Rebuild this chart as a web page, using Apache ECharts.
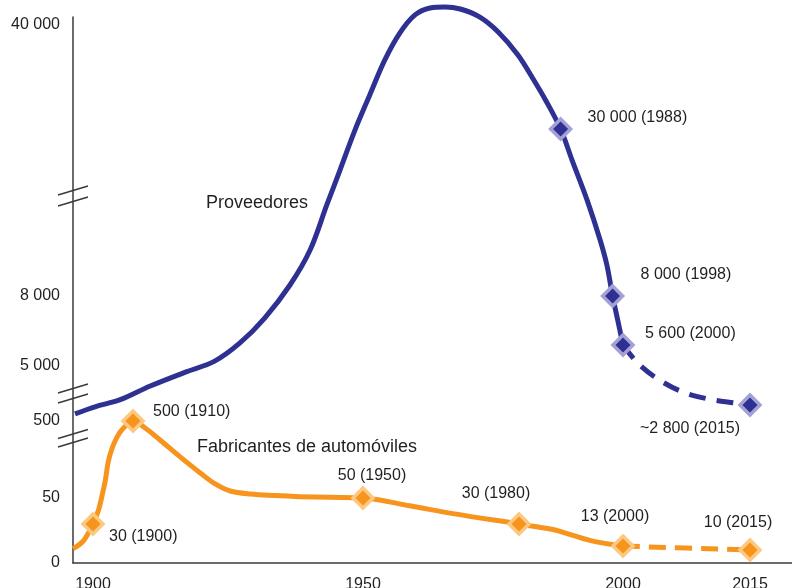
<!DOCTYPE html>
<html>
<head>
<meta charset="utf-8">
<script src="https://cdn.jsdelivr.net/npm/echarts@6/dist/echarts.min.js"></script>
<style>
  html, body { margin: 0; padding: 0; background: #ffffff; }
  #chart { width: 792px; height: 588px; }
</style>
</head>
<body>
<div id="chart"></div>
<script>
// ---- Data -------------------------------------------------------------
// Suppliers (Proveedores): solid part up to 2000, estimate (dashed) to 2015
const supplierYears  = [1895.5, 1900.5, 1906.8, 1913, 1919, 1924.2, 1928.6, 1932.9, 1937.3, 1940.8,
                        1943.7, 1946, 1948.6, 1951.3, 1954.2, 1957.1, 1960, 1962.9, 1965.8, 1968.7,
                        1972.4, 1976, 1979.8, 1982.6, 1985.1, 1988, 1990.2, 1993.1, 1995.6, 1996.9,
                        1998, 1999, 2000];
const supplierValues = [1520, 2545, 3100, 3870, 4640, 5140, 5700, 6920, 9450, 14060,
                        19990, 24590, 29860, 33270, 36640, 39240, 40970, 41640, 41740, 41540,
                        40780, 39330, 37120, 34910, 32790, 30000, 25910, 20640, 15380, 12080,
                        8000, 6800, 5600];
const supplierDashYears  = [2000, 2001.8, 2004.4, 2007.3, 2010.3, 2013.3, 2015];
const supplierDashValues = [5600, 5070, 4180, 3490, 3120, 2910, 2800];

// Car makers (Fabricantes de automóviles)
const makerYears  = [1895, 1897.6, 1900, 1901.4, 1902.3, 1903.1, 1903.8, 1904.8, 1906, 1907.4,
                     1910, 1912.1, 1914.7, 1918.2, 1921.7, 1924.3, 1926.9, 1930.4, 1934.7, 1939,
                     1944.3, 1950, 1959, 1967.3, 1980, 1986.3, 1988.2, 1994, 2000];
const makerValues = [11, 17, 30, 41, 68, 155, 260, 342, 406, 453,
                     500, 459, 389, 290, 196, 132, 91, 73, 64, 58,
                     54, 50, 44, 38, 30, 26, 24, 17, 13];
const makerDashYears  = [2000, 2015];
const makerDashValues = [13, 10];

// Labelled points
const supplierMarkYears  = [1988, 1998, 2000, 2015];
const supplierMarkValues = [30000, 8000, 5600, 2800];
const supplierMarkApprox = [false, false, false, true];
const makerMarkYears  = [1900, 1910, 1950, 1980, 2000, 2015];
const makerMarkValues = [30, 500, 50, 30, 13, 10];

// Axis ticks
const yTickValues = [0, 50, 500, 5000, 8000, 40000];
const xTickYears  = [1900, 1950, 2000, 2015];

const supplierName = 'Proveedores';
const makerName = 'Fabricantes de automóviles';

// ---- Styles -----------------------------------------------------------
const FONT = '"Liberation Sans", Arial, Helvetica, sans-serif';
const TEXT = '#231f20';
const AXIS = '#3a3a3a';
const BLUE = '#2e3192', BLUE_EDGE = '#a3a1d5';
const ORANGE = '#f7941d', ORANGE_EDGE = '#fdc981';

// label placement around each marker (dx, dy in px)
const supplierLabelPlace = [
  { align: 'left',   offset: [27, -11] },
  { align: 'left',   offset: [28, -21] },
  { align: 'left',   offset: [22, -11] },
  { align: 'center', offset: [-60, 24] }
];
const makerLabelPlace = [
  { align: 'left',   offset: [16, 13] },
  { align: 'left',   offset: [20, -9] },
  { align: 'center', offset: [9, -22] },
  { align: 'center', offset: [-23, -30] },
  { align: 'center', offset: [-8, -30] },
  { align: 'center', offset: [-12, -27] }
];

// ---- Broken-axis scales (value -> axis units) --------------------------
const xScaleKnots = [[1895, 0], [1900, 20], [1910, 60], [1950, 290], [2000, 550], [2015, 677]];
const yScaleKnots = [[0, 0], [50, 65], [500, 142], [2800, 158], [5000, 197], [5600, 218],
                     [8000, 267], [30000, 434], [40000, 538]];
// axis breaks drawn as double slashes (axis units)
const yBreaks = [[372.5, 361.5], [174.5, 164.5], [129, 120.5]];

function piecewise(knots, v) {
  let i = 0;
  while (i < knots.length - 2 && v > knots[i + 1][0]) i++;
  const [a0, b0] = knots[i], [a1, b1] = knots[i + 1];
  return b0 + (v - a0) * (b1 - b0) / (a1 - a0);
}
const sx = yr => piecewise(xScaleKnots, yr);
const sy = v => piecewise(yScaleKnots, v);

function fmtNum(n) {
  return String(n).replace(/\B(?=(\d{3})+(?!\d))/g, ' ');
}
function toPoints(xs, vs) {
  return xs.map((x, i) => [sx(x), sy(vs[i])]);
}
function toMarkers(xs, vs, approx, place) {
  return xs.map((yr, i) => ({
    value: [sx(yr), sy(vs[i])],
    label: {
      align: place[i].align,
      offset: place[i].offset,
      formatter: (approx && approx[i] ? '~' : '') + fmtNum(vs[i]) + ' (' + yr + ')'
    }
  }));
}

const yTickPos = yTickValues.map(sy);
const xTickPos = xTickYears.map(sx);

const lineBase = (color, dash) => ({
  type: 'line',
  smooth: 0.35,
  showSymbol: false,
  clip: false,
  silent: true,
  z: 2,
  lineStyle: { color: color, width: 5, type: dash || 'solid', cap: 'butt', join: 'round' }
});

const markerBase = (color, edge) => ({
  type: 'scatter',
  symbol: 'diamond',
  symbolSize: 20,
  clip: false,
  z: 5,
  itemStyle: { color: color, borderColor: edge, borderWidth: 3.5, opacity: 1 },
  label: {
    show: true,
    position: 'inside',
    verticalAlign: 'middle',
    fontFamily: FONT,
    fontSize: 16,
    color: TEXT
  }
});

const chart = echarts.init(document.getElementById('chart'), null, { renderer: 'canvas' });

chart.setOption({
  animation: false,
  backgroundColor: '#ffffff',
  grid: { left: 73, right: 0, top: 17, bottom: 25, containLabel: false, outerBoundsMode: 'none' },
  xAxis: {
    type: 'value',
    min: 0,
    max: 719,
    axisLine: { show: true, onZero: false, lineStyle: { color: AXIS, width: 1.5 } },
    axisTick: { show: false },
    splitLine: { show: false },
    axisLabel: {
      customValues: xTickPos,
      margin: 14,
      fontFamily: FONT,
      fontSize: 16,
      color: TEXT,
      formatter: v => {
        const i = xTickPos.findIndex(p => Math.abs(p - v) < 1e-6);
        return i >= 0 ? String(xTickYears[i]) : '';
      }
    }
  },
  yAxis: {
    type: 'value',
    min: 0,
    max: 546,
    axisLine: { show: true, onZero: false, lineStyle: { color: AXIS, width: 1.5 } },
    axisTick: { show: false },
    splitLine: { show: false },
    axisLabel: {
      customValues: yTickPos,
      margin: 13,
      fontFamily: FONT,
      fontSize: 16,
      color: TEXT,
      formatter: v => {
        const i = yTickPos.findIndex(p => Math.abs(p - v) < 1e-6);
        return i >= 0 ? fmtNum(yTickValues[i]) : '';
      }
    }
  },
  series: [
    Object.assign(lineBase(BLUE), { name: supplierName, data: toPoints(supplierYears, supplierValues) }),
    Object.assign(lineBase(BLUE, [17, 11]), { name: supplierName, data: toPoints(supplierDashYears, supplierDashValues) }),
    Object.assign(lineBase(ORANGE), { name: makerName, data: toPoints(makerYears, makerValues) }),
    Object.assign(lineBase(ORANGE, [17, 9]), { name: makerName, data: toPoints(makerDashYears, makerDashValues) }),
    Object.assign(markerBase(BLUE, BLUE_EDGE), { name: supplierName,
      data: toMarkers(supplierMarkYears, supplierMarkValues, supplierMarkApprox, supplierLabelPlace) }),
    Object.assign(markerBase(ORANGE, ORANGE_EDGE), { name: makerName,
      data: toMarkers(makerMarkYears, makerMarkValues, null, makerLabelPlace) })
  ]
});

// Axis-break slashes and series captions
const axisX = chart.convertToPixel({ xAxisIndex: 0 }, 0);
const graphics = [];
yBreaks.forEach(pair => {
  pair.forEach(u => {
    const py = chart.convertToPixel({ yAxisIndex: 0 }, u);
    graphics.push({
      type: 'line',
      z: 10,
      shape: { x1: axisX - 15, y1: py + 4.5, x2: axisX + 15, y2: py - 4.5 },
      style: { stroke: AXIS, lineWidth: 1.5 }
    });
  });
});
graphics.push({
  type: 'text', x: 206, y: 203, z: 10,
  style: { text: supplierName, font: '18px ' + FONT, fill: TEXT, verticalAlign: 'middle' }
});
graphics.push({
  type: 'text', x: 197, y: 447, z: 10,
  style: { text: makerName, font: '18px ' + FONT, fill: TEXT, verticalAlign: 'middle' }
});
chart.setOption({ graphic: graphics });
</script>
</body>
</html>
